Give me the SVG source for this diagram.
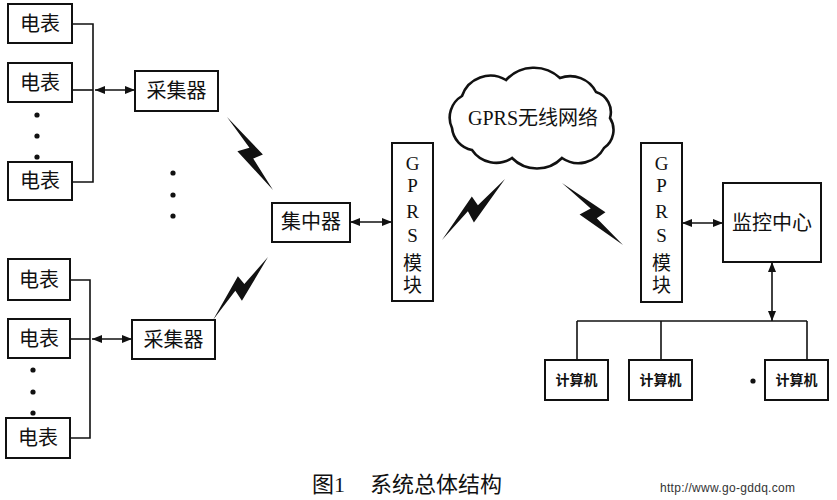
<svg xmlns="http://www.w3.org/2000/svg" width="837" height="500" viewBox="0 0 837 500">
<style>
.box{fill:#fff;stroke:#111;stroke-width:2}
.ln{fill:none;stroke:#111;stroke-width:1.6}
.arr{fill:none;stroke:#111;stroke-width:1.6;marker-start:url(#ah);marker-end:url(#ah)}
.t{font-family:"Liberation Serif","Noto Sans CJK SC",serif;font-size:20px;fill:#111;text-anchor:middle}
.v{font-family:"Liberation Serif","Noto Sans CJK SC",serif;font-size:19px;fill:#111;text-anchor:middle}
.s{font-family:"Noto Sans CJK SC",sans-serif;font-size:14px;font-weight:bold;fill:#111;text-anchor:middle}
.dot{fill:#111}
.bolt{fill:#111}
</style>
<defs>
<marker id="ah" viewBox="0 0 10 8" refX="10" refY="4" markerWidth="10" markerHeight="8" markerUnits="userSpaceOnUse" orient="auto-start-reverse">
<path d="M0,0 L10,4 L0,8 Z" fill="#111"/>
</marker>
<path id="bz" d="M0,0 L12,59 L0,57 L0,100 L-11,40 L3,44 Z"/>
</defs>
<rect width="837" height="500" fill="#fff"/>

<g id="connectors">
<polyline class="ln" points="72,24 93,24 93,182 72,182"/>
<line class="ln" x1="72" y1="90" x2="93" y2="90"/>
<line class="arr" x1="95" y1="90" x2="135" y2="90"/>
<polyline class="ln" points="70,280 90,280 90,438 70,438"/>
<line class="ln" x1="70" y1="339" x2="90" y2="339"/>
<line class="arr" x1="92" y1="339" x2="132" y2="339"/>
<line class="arr" x1="350" y1="222" x2="392" y2="222"/>
<line class="arr" x1="682" y1="223" x2="723" y2="223"/>
<line class="arr" x1="772" y1="262" x2="772" y2="321"/>
<line class="ln" x1="577" y1="321" x2="807" y2="321"/>
<line class="ln" x1="577" y1="321" x2="577" y2="360"/>
<line class="ln" x1="661" y1="321" x2="661" y2="360"/>
<line class="ln" x1="807" y1="321" x2="807" y2="360"/>
<use href="#bz" class="bolt" transform="matrix(0.73,-0.46,0.46,0.73,227,117)"/>
<use href="#bz" class="bolt" transform="matrix(-0.63,-0.55,0.55,-0.63,213,320)"/>
<use href="#bz" class="bolt" transform="matrix(-0.61,-0.63,0.63,-0.61,442,240)"/>
<use href="#bz" class="bolt" transform="matrix(0.62,-0.61,0.61,0.62,562,183)"/>
</g>

<g id="meter1"><rect class="box" x="8" y="4" width="64" height="39"/><text class="t" x="40" y="31">电表</text></g>
<g id="meter2"><rect class="box" x="8" y="63" width="64" height="39"/><text class="t" x="40" y="90">电表</text></g>
<g id="meter3"><rect class="box" x="8" y="162" width="64" height="38"/><text class="t" x="40" y="188">电表</text></g>
<g id="dots1"><circle class="dot" cx="37" cy="115" r="2.6"/><circle class="dot" cx="37" cy="136" r="2.6"/><circle class="dot" cx="37" cy="157" r="2.6"/></g>
<g id="collector1"><rect class="box" x="135" y="71" width="83" height="40"/><text class="t" x="176.5" y="98">采集器</text></g>
<g id="dots2"><circle class="dot" cx="173" cy="173" r="2.6"/><circle class="dot" cx="173" cy="195" r="2.6"/><circle class="dot" cx="173" cy="216" r="2.6"/></g>

<g id="meter4"><rect class="box" x="8" y="259" width="62" height="41"/><text class="t" x="39" y="287">电表</text></g>
<g id="meter5"><rect class="box" x="8" y="319" width="62" height="39"/><text class="t" x="39" y="346">电表</text></g>
<g id="meter6"><rect class="box" x="6" y="418" width="64" height="40"/><text class="t" x="38" y="445">电表</text></g>
<g id="dots3"><circle class="dot" cx="33" cy="370" r="2.6"/><circle class="dot" cx="33" cy="392" r="2.6"/><circle class="dot" cx="33" cy="413" r="2.6"/></g>
<g id="collector2"><rect class="box" x="132" y="320" width="83" height="39"/><text class="t" x="173.5" y="347">采集器</text></g>

<g id="concentrator"><rect class="box" x="272" y="203" width="78" height="39"/><text class="t" x="311" y="229">集中器</text></g>

<g id="gprs1"><rect class="box" x="392" y="143" width="41" height="158"/>
<text class="v" x="412.5" y="170">G</text><text class="v" x="412.5" y="192">P</text><text class="v" x="412.5" y="218">R</text><text class="v" x="412.5" y="242">S</text><text class="v" x="412.5" y="270">模</text><text class="v" x="412.5" y="292">块</text></g>

<g id="cloud">
<path d="M452,128 A25,25 0 0 1 462,96 A30,30 0 0 1 506,80 A38,38 0 0 1 560,78 A29,29 0 0 1 596,92 A21,21 0 0 1 610,118 A22,22 0 0 1 604,148 A29,29 0 0 1 562,158 A35,35 0 0 1 512,158 A29,29 0 0 1 472,150 A25,25 0 0 1 452,128 Z" fill="#fff" stroke="#111" stroke-width="2.6"/>
<text class="t" x="533" y="125">GPRS无线网络</text>
</g>

<g id="gprs2"><rect class="box" x="641" y="143" width="41" height="159"/>
<text class="v" x="661.5" y="170">G</text><text class="v" x="661.5" y="192">P</text><text class="v" x="661.5" y="218">R</text><text class="v" x="661.5" y="242">S</text><text class="v" x="661.5" y="270">模</text><text class="v" x="661.5" y="292">块</text></g>

<g id="monitor"><rect class="box" x="723" y="183" width="98" height="79"/><text class="t" x="772" y="230">监控中心</text></g>

<g id="pc1"><rect class="box" x="545" y="360" width="63" height="40"/><text class="s" x="576.5" y="385">计算机</text></g>
<g id="pc2"><rect class="box" x="629" y="360" width="63" height="40"/><text class="s" x="660.5" y="385">计算机</text></g>
<circle class="dot" cx="753" cy="381" r="2.6"/>
<g id="pc3"><rect class="box" x="765" y="360" width="63" height="40"/><text class="s" x="796.5" y="385">计算机</text></g>

<g id="caption">
<text x="312" y="492" font-family="Liberation Serif,Noto Sans CJK SC,serif" font-size="22" fill="#111">图1</text>
<text x="370" y="492" font-family="Noto Sans CJK SC,sans-serif" font-size="22" fill="#111">系统总体结构</text>
<text x="660" y="492" font-family="Liberation Sans,sans-serif" font-size="12" fill="#333" textLength="135">http://www.go-gddq.com</text>
</g>
</svg>
